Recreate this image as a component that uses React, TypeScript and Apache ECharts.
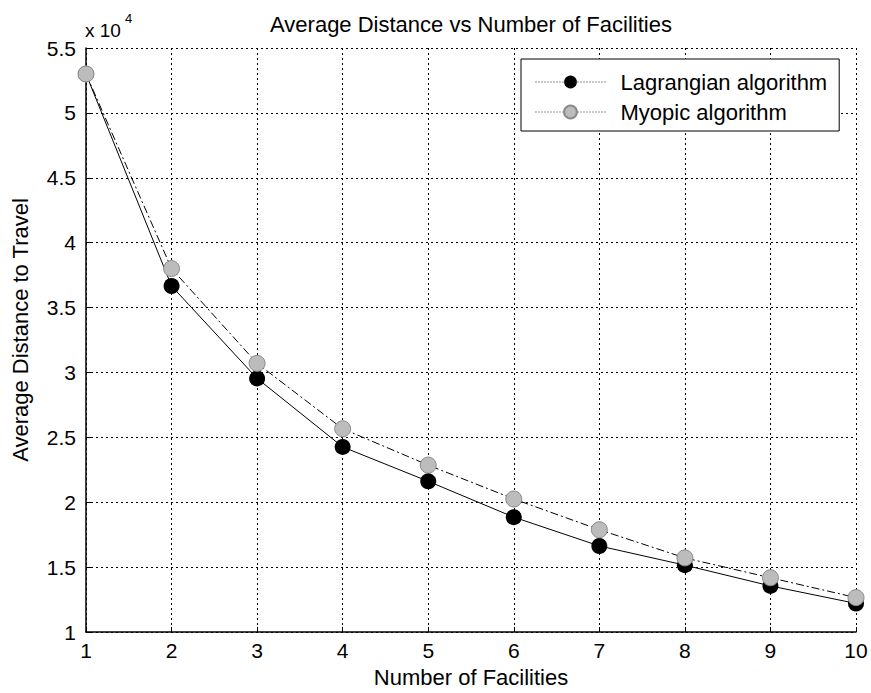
import React, { useEffect, useRef } from "react";
import * as echarts from "echarts";

const facilities = [1, 2, 3, 4, 5, 6, 7, 8, 9, 10];
const lagrangian = [53000, 36660, 29540, 24260, 21610, 18850, 16630, 15150, 13550, 12200];
const myopic = [53000, 38000, 30700, 25660, 22860, 20250, 17880, 15710, 14180, 12650];
const seriesNames = ["Lagrangian algorithm", "Myopic algorithm"];

const FONT = "Liberation Sans, Arial, Helvetica, sans-serif";

export default function App() {
  const ref = useRef<HTMLDivElement>(null);
  useEffect(() => {
    if (!ref.current) return;
    const chart = echarts.init(ref.current, undefined, { renderer: "svg" });
    chart.setOption({
      animation: false,
      backgroundColor: "#fff",
      textStyle: { fontFamily: FONT, color: "#000" },
      title: {
        text: "Average Distance vs Number of Facilities",
        left: 466,
        textAlign: "center",
        top: 8,
        textStyle: { fontFamily: FONT, fontSize: 22, fontWeight: "normal", color: "#000" },
      },
      grid: { left: 86, right: 15, top: 48, bottom: 57, containLabel: false },
      legend: {
        orient: "vertical",
        left: 521,
        top: 59,
        data: seriesNames,
        itemWidth: 70,
        itemHeight: 16,
        itemGap: 8,
        padding: [12, 12, 8, 14],
        backgroundColor: "#fff",
        borderColor: "#000",
        borderWidth: 1,
        borderRadius: 0,
        textStyle: { fontFamily: FONT, fontSize: 22, color: "#000", padding: [0, 0, 0, 10] },
        lineStyle: { type: [1, 2], width: 1, color: "#222" },
      },
      xAxis: {
        type: "value",
        min: 1,
        max: 10,
        interval: 1,
        name: "Number of Facilities",
        nameLocation: "middle",
        nameGap: 34,
        nameTextStyle: { fontFamily: FONT, fontSize: 22, color: "#000" },
        axisLine: { show: true, onZero: false, lineStyle: { color: "#000", width: 1.5 } },
        axisTick: { show: true, inside: true, length: 5, lineStyle: { color: "#000" } },
        axisLabel: { fontFamily: FONT, fontSize: 21, color: "#000", margin: 8 },
        splitLine: { show: true, lineStyle: { color: "#000", type: [2, 3], width: 1 } },
      },
      yAxis: {
        type: "value",
        min: 10000,
        max: 55000,
        interval: 5000,
        name: "Average Distance to Travel",
        nameLocation: "middle",
        nameGap: 55,
        nameTextStyle: { fontFamily: FONT, fontSize: 22, color: "#000", padding: [0, 0, 0, 20] },
        axisLine: { show: true, lineStyle: { color: "#000", width: 1.5 } },
        axisTick: { show: true, inside: true, length: 5, lineStyle: { color: "#000" } },
        axisLabel: {
          fontFamily: FONT,
          fontSize: 21,
          color: "#000",
          margin: 10,
          formatter: (v: number) => String(Math.round((v / 10000) * 10) / 10),
        },
        splitLine: { show: true, lineStyle: { color: "#000", type: [2, 3], width: 1 } },
      },
      graphic: [
        {
          type: "text",
          left: 85,
          top: 21,
          style: { text: "x 10", fontFamily: FONT, fontSize: 19, fill: "#000" },
        },
        {
          type: "text",
          left: 125,
          top: 12,
          style: { text: "4", fontFamily: FONT, fontSize: 13, fill: "#000" },
        },
      ],
      series: [
        {
          name: seriesNames[0],
          type: "line",
          data: facilities.map((f, i) => [f, lagrangian[i]]),
          symbol: "circle",
          symbolSize: 16,
          lineStyle: { color: "#000", width: 1, type: "solid" },
          itemStyle: { color: "#000", borderColor: "#000", borderWidth: 0 },
          z: 2,
        },
        {
          name: seriesNames[1],
          type: "line",
          data: facilities.map((f, i) => [f, myopic[i]]),
          symbol: "circle",
          symbolSize: 16,
          lineStyle: { color: "#000", width: 1, type: [8, 3, 2, 3] },
          itemStyle: { color: "#bcbcbc", borderColor: "#8a8a8a", borderWidth: 1 },
          z: 3,
        },
      ],
    });
    return () => chart.dispose();
  }, []);
  return (
    <div
      ref={ref}
      style={{ position: "absolute", left: 0, top: 0, width: 871, height: 693 }}
    />
  );
}
